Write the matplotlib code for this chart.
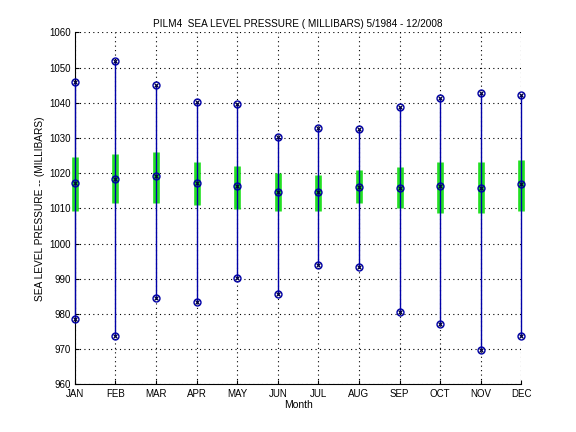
import numpy as np
import matplotlib
matplotlib.use('Agg')
import matplotlib.pyplot as plt

months = ['JAN', 'FEB', 'MAR', 'APR', 'MAY', 'JUN', 'JUL', 'AUG', 'SEP', 'OCT', 'NOV', 'DEC']
p_max = [1046.0, 1052.0, 1045.0, 1040.2, 1039.6, 1030.3, 1032.9, 1032.7, 1038.9, 1041.4, 1042.9, 1042.2]
p_mean = [1017.2, 1018.3, 1019.2, 1017.3, 1016.4, 1014.7, 1014.7, 1016.0, 1015.9, 1016.4, 1015.9, 1016.8]
p_min = [978.7, 973.7, 984.7, 983.3, 990.3, 985.6, 994.0, 993.4, 980.5, 977.1, 969.8, 973.7]
box_lo = [1009.4, 1011.5, 1011.5, 1010.9, 1009.8, 1009.4, 1009.4, 1011.5, 1010.0, 1008.8, 1008.6, 1009.4]
box_hi = [1024.6, 1025.5, 1026.1, 1023.2, 1022.1, 1020.1, 1019.6, 1021.0, 1021.9, 1023.2, 1023.2, 1023.8]

plt.rcParams['font.family'] = ['Liberation Sans', 'DejaVu Sans']
plt.rcParams['font.size'] = 7

x = np.arange(1, 13)
fig = plt.figure(figsize=(5.76, 4.32), dpi=100)
ax = fig.add_axes([0.13, 0.11, 0.775, 0.815])

navy = '#0000a8'
green = '#22e022'
ax.vlines(x, box_lo, box_hi, colors=green, lw=4.8, clip_on=False, zorder=3)
ax.vlines(x, p_min, p_max, colors=navy, lw=1.0, clip_on=False, zorder=4)
for vals in [p_max, p_mean, p_min]:
    ax.plot(x, vals, 'o', mfc='none', mec=navy, ms=5, mew=1.0, clip_on=False, zorder=5)
    ax.plot(x, vals, 'x', color='#000040', ms=3, mew=0.9, clip_on=False, zorder=6)

ax.set_xlim(1, 12)
ax.set_ylim(960, 1060)
ax.set_xticks(x)
ax.set_xticklabels(months)
ax.set_yticks(np.arange(960, 1061, 10))
ax.grid(True, color='k', linestyle=(0, (1, 3)), linewidth=0.8)
ax.spines['top'].set_visible(False)
ax.spines['right'].set_visible(False)
ax.tick_params(direction='in', length=3, pad=3)
ax.set_xlabel('Month', fontsize=7.5, labelpad=1)
ax.set_ylabel('SEA LEVEL PRESSURE -- (MILLIBARS)', fontsize=7.3, labelpad=3)
ax.set_title('PILM4  SEA LEVEL PRESSURE ( MILLIBARS) 5/1984 - 12/2008', fontsize=7.2, pad=4)

plt.savefig('out.png', dpi=100)
